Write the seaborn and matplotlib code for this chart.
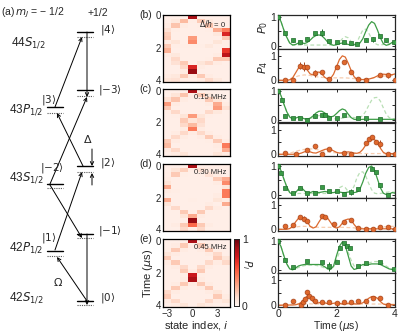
import matplotlib
matplotlib.use("Agg")
import matplotlib.pyplot as plt
import matplotlib.transforms as mtransforms
import seaborn as sns
import pandas as pd

# ---- heatmap data: population P_i, rows = 0.25 us time bins (0..4 us) ----
states = [-3, -2, -1, 0, 1, 2, 3, 4]
time_labels = ["0", "", "2", "", "4"]
detuning_labels = [r"$\Delta/h$ = 0", "0.15 MHz", "0.30 MHz", "0.45 MHz"]
panel_letters = ["(b)", "(c)", "(d)", "(e)"]

pop_b = [
    [.04, .04, .04, .85, .04, .04, .04, .04],
    [.04, .08, .25, .05, .20, .08, .04, .04],
    [.06, .22, .06, .04, .05, .22, .06, .04],
    [.12, .05, .04, .04, .04, .05, .30, .45],
    [.18, .04, .04, .04, .04, .04, .08, .70],
    [.20, .04, .04, .35, .04, .04, .04, .20],
    [.06, .10, .04, .40, .04, .04, .10, .05],
    [.20, .05, .05, .05, .05, .08, .04, .05],
    [.28, .04, .04, .04, .04, .04, .04, .65],
    [.06, .08, .04, .04, .04, .04, .06, .80],
    [.04, .15, .04, .04, .04, .05, .20, .20],
    [.04, .12, .20, .04, .10, .15, .06, .04],
    [.04, .04, .15, .70, .06, .04, .04, .04],
    [.04, .04, .06, .90, .04, .04, .04, .04],
    [.06, .08, .20, .06, .20, .06, .04, .04],
    [.10, .12, .05, .04, .06, .15, .08, .04],
]
pop_c = [
    [.04, .04, .04, .85, .04, .04, .04, .04],
    [.04, .10, .22, .05, .20, .08, .04, .04],
    [.12, .22, .06, .04, .05, .20, .10, .04],
    [.35, .06, .04, .04, .04, .06, .30, .06],
    [.20, .04, .04, .04, .04, .04, .35, .12],
    [.05, .15, .04, .04, .04, .15, .08, .04],
    [.04, .05, .10, .35, .10, .05, .04, .04],
    [.04, .04, .20, .10, .15, .04, .04, .04],
    [.04, .04, .15, .25, .12, .04, .04, .04],
    [.04, .04, .06, .45, .06, .04, .04, .04],
    [.04, .06, .15, .06, .15, .06, .04, .04],
    [.04, .15, .06, .04, .06, .20, .06, .04],
    [.20, .06, .04, .04, .04, .05, .20, .06],
    [.25, .04, .04, .04, .04, .04, .06, .45],
    [.06, .15, .04, .04, .04, .04, .05, .30],
    [.04, .06, .10, .04, .04, .04, .10, .06],
]
pop_d = [
    [.04, .04, .04, .85, .04, .04, .04, .04],
    [.04, .10, .18, .05, .12, .06, .04, .04],
    [.05, .20, .05, .04, .05, .12, .06, .04],
    [.06, .04, .04, .04, .04, .04, .20, .30],
    [.10, .04, .04, .04, .04, .04, .06, .40],
    [.30, .04, .04, .04, .04, .04, .04, .10],
    [.06, .05, .04, .04, .04, .04, .04, .45],
    [.04, .04, .04, .04, .04, .04, .06, .45],
    [.30, .04, .04, .05, .04, .04, .10, .06],
    [.10, .04, .04, .04, .04, .06, .04, .30],
    [.04, .15, .04, .04, .04, .15, .06, .04],
    [.04, .04, .20, .04, .20, .04, .04, .04],
    [.04, .04, .10, .30, .06, .04, .04, .04],
    [.04, .04, .04, .90, .04, .04, .04, .04],
    [.04, .06, .20, .50, .20, .06, .04, .04],
    [.04, .04, .15, .05, .15, .04, .04, .04],
]
pop_e = [
    [.04, .04, .04, .85, .04, .04, .04, .04],
    [.04, .06, .20, .05, .20, .06, .04, .04],
    [.05, .20, .06, .04, .06, .20, .05, .04],
    [.10, .06, .04, .04, .04, .06, .15, .04],
    [.20, .04, .04, .04, .04, .04, .20, .10],
    [.06, .20, .04, .04, .04, .15, .06, .15],
    [.04, .06, .15, .04, .15, .06, .04, .04],
    [.04, .04, .20, .06, .20, .04, .04, .04],
    [.04, .04, .05, .75, .05, .04, .04, .04],
    [.04, .04, .06, .85, .06, .04, .04, .04],
    [.04, .06, .20, .06, .20, .06, .04, .04],
    [.04, .20, .06, .04, .06, .20, .04, .04],
    [.15, .06, .04, .04, .04, .06, .10, .04],
    [.20, .04, .04, .04, .04, .04, .20, .06],
    [.06, .15, .04, .04, .04, .15, .06, .10],
    [.04, .06, .10, .04, .10, .06, .04, .04],
]

# ---- measured P0 / P4 with error bars ----
g1_p0_t = [0, 0.25, 0.5, 0.75, 1.0, 1.25, 1.5, 1.75, 2.0, 2.25, 2.5, 2.7, 3.0, 3.25, 3.5, 3.7, 3.95]
g1_p0_v = [1.0, 0.44, 0.19, 0.14, 0.25, 0.43, 0.46, 0.17, 0.14, 0.12, 0.11, 0.08, 0.21, 0.23, 0.35, 0.19, 0.12]
g1_p0_e = [0.02, 0.05, 0.05, 0.08, 0.05, 0.05, 0.12, 0.04, 0.04, 0.04, 0.04, 0.04, 0.05, 0.08, 0.04, 0.05, 0.06]
g1_p4_t = [0.25, 0.5, 0.75, 0.9, 1.0, 1.25, 1.5, 1.75, 2.0, 2.25, 2.5, 2.75, 3.0, 3.5, 3.75, 4.0]
g1_p4_v = [0.0, 0.03, 0.60, 0.56, 0.56, 0.28, 0.32, 0.07, 0.56, 0.74, 0.32, 0.04, 0.03, 0.21, 0.21, 0.03]
g1_p4_e = [0.02, 0.03, 0.15, 0.2, 0.08, 0.15, 0.04, 0.03, 0.04, 0.04, 0.04, 0.03, 0.03, 0.06, 0.1, 0.03]

g2_p0_t = [0, 0.12, 0.25, 0.5, 0.75, 1.0, 1.25, 1.5, 1.6, 1.75, 2.0, 2.25, 2.75, 3.0, 3.5]
g2_p0_v = [1.0, 0.7, 0.15, 0.08, 0.06, 0.0, 0.12, 0.16, 0.18, 0.05, 0.06, 0.18, 0.06, 0.06, 0.02]
g2_p0_e = [0.02, 0.04, 0.04, 0.03, 0.03, 0.03, 0.04, 0.05, 0.05, 0.03, 0.03, 0.04, 0.03, 0.03, 0.03]
g2_p4_t = [0.25, 0.6, 1.0, 1.25, 1.5, 1.75, 2.25, 2.5, 3.0, 3.1, 3.2, 3.35, 3.5, 3.75, 4.0]
g2_p4_v = [0.07, 0.02, 0.18, 0.35, 0.03, 0.22, 0.05, 0.03, 0.47, 0.64, 0.71, 0.51, 0.44, 0.03, 0.01]
g2_p4_e = [0.03, 0.03, 0.04, 0.04, 0.03, 0.04, 0.03, 0.03, 0.05, 0.06, 0.06, 0.06, 0.15, 0.03, 0.03]

g3_p0_t = [0, 0.1, 0.25, 0.5, 0.75, 1.0, 1.25, 1.5, 1.75, 2.0, 2.25, 2.5, 2.75, 3.2, 3.35, 3.5, 3.75]
g3_p0_v = [0.99, 0.76, 0.25, 0.07, 0.25, 0.07, 0.08, 0.28, 0.13, 0.13, 0.02, 0.1, 0.19, 0.91, 0.8, 0.36, 0.0]
g3_p0_e = [0.02, 0.05, 0.04, 0.04, 0.05, 0.03, 0.03, 0.04, 0.03, 0.03, 0.03, 0.1, 0.04, 0.04, 0.04, 0.04, 0.03]
g3_p4_t = [0.25, 0.5, 0.75, 0.88, 1.0, 1.5, 1.62, 1.9, 2.25, 2.5, 2.75, 3.0, 3.25, 3.5, 3.75, 4.0]
g3_p4_v = [0.15, 0.17, 0.5, 0.44, 0.32, 0.53, 0.5, 0.22, 0.28, 0.36, 0.04, 0.03, 0.03, 0.08, 0.08, 0.02]
g3_p4_e = [0.03, 0.03, 0.05, 0.12, 0.05, 0.04, 0.04, 0.04, 0.04, 0.04, 0.03, 0.03, 0.03, 0.03, 0.03, 0.03]

g4_p0_t = [0, 0.25, 0.5, 1.0, 1.5, 1.75, 2.0, 2.12, 2.25, 2.35, 2.45, 2.75, 3.0, 3.5, 3.95]
g4_p0_v = [1.0, 0.35, 0.11, 0.31, 0.28, 0.14, 0.28, 0.77, 0.92, 0.83, 0.75, 0.14, 0.25, 0.29, 0.03]
g4_p0_e = [0.02, 0.04, 0.03, 0.04, 0.04, 0.15, 0.04, 0.05, 0.05, 0.05, 0.05, 0.04, 0.04, 0.04, 0.03]
g4_p4_t = [0.25, 0.5, 0.78, 0.87, 0.92, 1.0, 1.07, 1.17, 1.25, 1.5, 1.75, 2.0, 2.25, 2.5, 2.75, 3.0, 3.25, 3.5, 3.75]
g4_p4_v = [0.03, 0.17, 0.0, 0.14, 0.25, 0.53, 0.39, 0.28, 0.17, 0.14, 0.14, 0.11, 0.14, 0.14, 0.17, 0.17, 0.31, 0.31, 0.0]
g4_p4_e = [0.03, 0.03, 0.03, 0.04, 0.04, 0.1, 0.05, 0.04, 0.03, 0.03, 0.03, 0.03, 0.03, 0.03, 0.03, 0.04, 0.05, 0.05, 0.03]

# ---- simulated curves, sampled every 0.1 us ----
curve_t = [0.0, 0.1, 0.2, 0.3, 0.4, 0.5, 0.6, 0.7, 0.8, 0.9,
           1.0, 1.1, 1.2, 1.3, 1.4, 1.5, 1.6, 1.7, 1.8, 1.9,
           2.0, 2.1, 2.2, 2.3, 2.4, 2.5, 2.6, 2.7, 2.8, 2.9,
           3.0, 3.1, 3.2, 3.3, 3.4, 3.5, 3.6, 3.7, 3.8, 3.9,
           4.0]

g1_p0_fit = [1.00, 0.85, 0.55, 0.30, 0.10, 0.03, 0.05, 0.10, 0.12, 0.08,
             0.12, 0.20, 0.30, 0.36, 0.38, 0.35, 0.25, 0.13, 0.05, 0.02,
             0.04, 0.08, 0.10, 0.08, 0.05, 0.03, 0.04, 0.05, 0.10, 0.25,
             0.50, 0.72, 0.84, 0.78, 0.55, 0.28, 0.08, 0.02, 0.05, 0.12,
             0.10]
g1_p0_ideal = [1.00, 0.85, 0.55, 0.28, 0.10, 0.03, 0.02, 0.03, 0.03, 0.03,
               0.03, 0.03, 0.03, 0.03, 0.03, 0.03, 0.03, 0.03, 0.04, 0.05,
               0.06, 0.12, 0.25, 0.32, 0.28, 0.15, 0.06, 0.12, 0.35, 0.55,
               0.58, 0.45, 0.25, 0.10, 0.04, 0.03, 0.05, 0.07, 0.08, 0.08,
               0.07]
g1_p4_fit = [0.00, 0.00, 0.00, 0.00, 0.02, 0.10, 0.30, 0.50, 0.62, 0.58,
             0.42, 0.26, 0.22, 0.30, 0.34, 0.26, 0.12, 0.05, 0.08, 0.25,
             0.55, 0.85, 1.00, 0.95, 0.70, 0.40, 0.15, 0.04, 0.02, 0.03,
             0.04, 0.05, 0.08, 0.12, 0.18, 0.22, 0.25, 0.24, 0.22, 0.23,
             0.26]
g1_p4_ideal = [0.00, 0.00, 0.01, 0.03, 0.06, 0.10, 0.14, 0.18, 0.20, 0.22,
               0.21, 0.20, 0.17, 0.15, 0.13, 0.12, 0.11, 0.10, 0.10, 0.10,
               0.10, 0.10, 0.10, 0.10, 0.09, 0.08, 0.07, 0.06, 0.05, 0.05,
               0.05, 0.06, 0.08, 0.10, 0.12, 0.15, 0.17, 0.18, 0.19, 0.20,
               0.20]

g2_p0_fit = [1.00, 0.85, 0.55, 0.28, 0.10, 0.03, 0.06, 0.10, 0.08, 0.04,
             0.03, 0.06, 0.14, 0.24, 0.30, 0.30, 0.24, 0.15, 0.10, 0.13,
             0.22, 0.32, 0.38, 0.34, 0.20, 0.08, 0.02, 0.01, 0.01, 0.02,
             0.02, 0.02, 0.02, 0.02, 0.02, 0.02, 0.02, 0.02, 0.02, 0.02,
             0.02]
g2_p0_ideal = [1.00, 0.85, 0.55, 0.28, 0.10, 0.03, 0.02, 0.03, 0.04, 0.04,
               0.04, 0.05, 0.08, 0.12, 0.15, 0.15, 0.12, 0.08, 0.05, 0.04,
               0.04, 0.05, 0.06, 0.08, 0.10, 0.10, 0.08, 0.06, 0.08, 0.15,
               0.30, 0.50, 0.68, 0.77, 0.78, 0.65, 0.42, 0.20, 0.08, 0.04,
               0.03]
g2_p4_fit = [0.00, 0.00, 0.00, 0.00, 0.00, 0.00, 0.01, 0.02, 0.05, 0.10,
             0.12, 0.10, 0.06, 0.05, 0.10, 0.15, 0.20, 0.22, 0.20, 0.14,
             0.08, 0.05, 0.06, 0.08, 0.10, 0.08, 0.05, 0.04, 0.08, 0.20,
             0.38, 0.52, 0.60, 0.60, 0.48, 0.25, 0.08, 0.02, 0.02, 0.03,
             0.03]
g2_p4_ideal = [0.00, 0.00, 0.01, 0.03, 0.05, 0.08, 0.12, 0.15, 0.18, 0.20,
               0.22, 0.22, 0.22, 0.20, 0.18, 0.15, 0.12, 0.10, 0.08, 0.07,
               0.06, 0.05, 0.05, 0.04, 0.04, 0.04, 0.04, 0.03, 0.03, 0.03,
               0.03, 0.03, 0.03, 0.03, 0.03, 0.03, 0.03, 0.02, 0.02, 0.02,
               0.02]

g3_p0_fit = [1.00, 0.85, 0.55, 0.28, 0.08, 0.02, 0.08, 0.20, 0.25, 0.15,
             0.05, 0.08, 0.12, 0.10, 0.08, 0.10, 0.12, 0.10, 0.08, 0.08,
             0.10, 0.10, 0.08, 0.08, 0.10, 0.10, 0.08, 0.10, 0.20, 0.45,
             0.75, 0.95, 1.00, 0.85, 0.55, 0.25, 0.06, 0.01, 0.03, 0.08,
             0.06]
g3_p0_ideal = [1.00, 0.85, 0.55, 0.28, 0.08, 0.02, 0.03, 0.05, 0.05, 0.05,
               0.05, 0.05, 0.05, 0.05, 0.05, 0.05, 0.05, 0.05, 0.06, 0.08,
               0.15, 0.25, 0.30, 0.25, 0.12, 0.10, 0.30, 0.60, 0.78, 0.80,
               0.65, 0.40, 0.18, 0.06, 0.04, 0.05, 0.07, 0.09, 0.10, 0.10,
               0.09]
g3_p4_fit = [0.00, 0.00, 0.00, 0.00, 0.03, 0.12, 0.30, 0.45, 0.50, 0.45,
             0.30, 0.12, 0.05, 0.10, 0.30, 0.48, 0.52, 0.45, 0.28, 0.10,
             0.05, 0.10, 0.25, 0.38, 0.42, 0.38, 0.20, 0.06, 0.02, 0.02,
             0.02, 0.02, 0.02, 0.02, 0.02, 0.02, 0.02, 0.02, 0.02, 0.02,
             0.02]
g3_p4_ideal = [0.00, 0.00, 0.01, 0.03, 0.05, 0.07, 0.09, 0.11, 0.12, 0.12,
               0.12, 0.11, 0.10, 0.09, 0.08, 0.08, 0.08, 0.08, 0.08, 0.08,
               0.08, 0.08, 0.08, 0.08, 0.07, 0.07, 0.06, 0.05, 0.05, 0.05,
               0.05, 0.05, 0.06, 0.07, 0.08, 0.09, 0.10, 0.11, 0.12, 0.12,
               0.12]

g4_p0_fit = [1.00, 0.82, 0.50, 0.22, 0.05, 0.02, 0.08, 0.15, 0.18, 0.20,
             0.20, 0.20, 0.20, 0.20, 0.20, 0.18, 0.12, 0.05, 0.03, 0.15,
             0.50, 0.82, 0.97, 0.85, 0.50, 0.15, 0.03, 0.06, 0.15, 0.20,
             0.20, 0.20, 0.22, 0.22, 0.22, 0.20, 0.15, 0.10, 0.05, 0.03,
             0.02]
g4_p0_ideal = [1.00, 0.82, 0.50, 0.22, 0.05, 0.02, 0.05, 0.10, 0.14, 0.16,
               0.18, 0.18, 0.18, 0.17, 0.15, 0.12, 0.08, 0.05, 0.05, 0.12,
               0.35, 0.62, 0.78, 0.80, 0.62, 0.35, 0.15, 0.08, 0.10, 0.15,
               0.20, 0.25, 0.28, 0.30, 0.30, 0.28, 0.22, 0.15, 0.08, 0.04,
               0.03]
g4_p4_fit = [0.00, 0.00, 0.01, 0.01, 0.01, 0.01, 0.02, 0.05, 0.12, 0.25,
             0.38, 0.30, 0.15, 0.08, 0.10, 0.12, 0.10, 0.06, 0.05, 0.08,
             0.10, 0.08, 0.05, 0.06, 0.08, 0.08, 0.06, 0.05, 0.06, 0.10,
             0.18, 0.28, 0.35, 0.35, 0.28, 0.15, 0.05, 0.02, 0.02, 0.02,
             0.02]
g4_p4_ideal = [0.00, 0.01, 0.02, 0.03, 0.04, 0.05, 0.05, 0.06, 0.06, 0.06,
               0.06, 0.06, 0.05, 0.05, 0.05, 0.05, 0.05, 0.05, 0.05, 0.05,
               0.05, 0.05, 0.05, 0.04, 0.04, 0.04, 0.04, 0.04, 0.04, 0.05,
               0.05, 0.05, 0.05, 0.05, 0.05, 0.05, 0.05, 0.05, 0.04, 0.04,
               0.04]

heatmaps = [pop_b, pop_c, pop_d, pop_e]
groups = [
    (g1_p0_t, g1_p0_v, g1_p0_e, g1_p0_fit, g1_p0_ideal, g1_p4_t, g1_p4_v, g1_p4_e, g1_p4_fit, g1_p4_ideal),
    (g2_p0_t, g2_p0_v, g2_p0_e, g2_p0_fit, g2_p0_ideal, g2_p4_t, g2_p4_v, g2_p4_e, g2_p4_fit, g2_p4_ideal),
    (g3_p0_t, g3_p0_v, g3_p0_e, g3_p0_fit, g3_p0_ideal, g3_p4_t, g3_p4_v, g3_p4_e, g3_p4_fit, g3_p4_ideal),
    (g4_p0_t, g4_p0_v, g4_p0_e, g4_p0_fit, g4_p0_ideal, g4_p4_t, g4_p4_v, g4_p4_e, g4_p4_fit, g4_p4_ideal),
]

GREEN = dict(line="#3d9c46", light="#b9dfb5", face="#3a9b46", edge="#1d6b2a", marker="s")
ORANGE = dict(line="#dc6a2f", light="#f6cdb0", face="#e0692d", edge="#a8441a", marker="o")

sns.set_theme(style="ticks")
plt.rcParams["font.family"] = ["Liberation Sans", "DejaVu Sans"]
plt.rcParams.update({
    "font.size": 7, "xtick.labelsize": 7, "ytick.labelsize": 7,
    "axes.labelsize": 8, "axes.linewidth": 0.9,
    "xtick.direction": "in", "ytick.direction": "in",
    "xtick.major.size": 2.5, "ytick.major.size": 2.5,
    "xtick.major.width": 0.7, "ytick.major.width": 0.7,
    "xtick.major.pad": 1.5, "ytick.major.pad": 1.5,
})

W, H = 415, 332
fig = plt.figure(figsize=(W / 100, H / 100), dpi=100)


def px_axes(x0, y0, x1, y1):
    return fig.add_axes([x0 / W, 1 - y1 / H, (x1 - x0) / W, (y1 - y0) / H])


# ---------------- (a) level diagram ----------------
ax_a = fig.add_axes([0, 0, 1, 1])
ax_a.set_xlim(0, W)
ax_a.set_ylim(H, 0)
ax_a.axis("off")

# name: (x_left, x_right, y_solid, y_dotted)
levels = {
    "4": (77, 93, 32, 37), "-3": (77, 93, 90, 96), "2": (77, 93, 166, 172),
    "-1": (77, 93, 234, 238), "0": (77, 93, 301, 305),
    "3": (47, 63, 107, 113), "-2": (47, 63, 184, 188), "1": (47, 63, 251, 256),
}
for name, (xl, xr, ys, yd) in levels.items():
    ax_a.plot([xl, xr], [ys, ys], color="black", lw=1.0)
    ax_a.plot([xl, xr], [yd, yd], color="0.35", lw=0.8, ls=(0, (1, 1)))

arrows = [((87, 301), (57, 257)), ((55, 250), (82, 172)), ((50, 185), (82, 238)),
          ((87, 234), (87, 305)), ((83, 166), (57, 113)), ((50, 184), (87, 97)),
          ((55, 107), (82, 37)), ((87, 32), (87, 97)),
          ((92, 149), (92, 166)), ((92, 185), (92, 173))]
for (x0, y0), (x1, y1) in arrows:
    ax_a.annotate("", xy=(x1, y1), xytext=(x0, y0),
                  arrowprops=dict(arrowstyle="->", lw=0.7, color="black",
                                  shrinkA=0, shrinkB=0, mutation_scale=6))

ax_a.text(1, 13, r"(a)$\,m_J$ = − 1/2", fontsize=7.5, va="center")
ax_a.text(88, 13, "+1/2", fontsize=7.5, va="center")
state_names = [(r"44$S_{1/2}$", 11, 43), (r"43$P_{1/2}$", 9, 110), (r"43$S_{1/2}$", 9, 178),
               (r"42$P_{1/2}$", 9, 248), (r"42$S_{1/2}$", 9, 298)]
for txt, x, y in state_names:
    ax_a.text(x, y, txt, fontsize=8.5, va="center")
kets = [("4", 100, 30), ("-3", 98, 90), ("2", 100, 163), ("-1", 98, 231), ("0", 100, 298),
        ("3", 41, 100), ("-2", 40, 168), ("1", 41, 238)]
for k, x, y in kets:
    ax_a.text(x, y, r"$|" + k.replace("-", "{-}") + r"\rangle$", fontsize=7.5, va="center")
ax_a.text(58, 282, r"$\Omega$", fontsize=8, ha="center", va="center")
ax_a.text(88, 139, r"$\Delta$", fontsize=8, ha="center", va="center")

# ---------------- (b)-(e) heatmaps ----------------
hm_rows = [(15, 82), (89, 156), (164, 231), (239, 307)]
cax = px_axes(234, 239, 239, 306)
nudge_up = mtransforms.ScaledTranslation(0, 1.5 / 72, fig.dpi_scale_trans)
nudge_down = mtransforms.ScaledTranslation(0, -1.5 / 72, fig.dpi_scale_trans)
for k, (pop, (y0, y1)) in enumerate(zip(heatmaps, hm_rows)):
    ax = px_axes(163, y0, 230, y1)
    df = pd.DataFrame(pop, columns=states)
    last = k == 3
    sns.heatmap(df, ax=ax, cmap="Reds", vmin=0, vmax=1, cbar=last,
                cbar_ax=cax if last else None, xticklabels=False, yticklabels=False)
    for sp in ax.spines.values():
        sp.set_visible(True)
        sp.set_color("black")
        sp.set_linewidth(0.9)
    ax.set_xticks([i + 0.5 for i in range(len(states))])
    ax.set_xticklabels([(str(s).replace("-", "−") if s in (-3, 0, 3) else "") if last else ""
                        for s in states])
    ax.set_yticks([0, 4, 8, 12, 16])
    ax.set_yticklabels(time_labels, rotation=0)
    ax.tick_params(top=True, right=True, bottom=True, left=True, direction="in",
                   length=2.5, width=0.7, labelsize=7, pad=1.5)
    ylabs = ax.get_yticklabels()
    ylabs[-1].set_transform(ylabs[-1].get_transform() + nudge_up)
    if k > 0:
        ylabs[0].set_transform(ylabs[0].get_transform() + nudge_down)
    ax.text(0.95, 0.87, detuning_labels[k], transform=ax.transAxes, fontsize=5.5,
            ha="right", va="center")
    ax.text(-0.36, 1.0, panel_letters[k], transform=ax.transAxes, fontsize=7.5, va="center")
    if last:
        ax.set_xlabel(r"state index, $i$", labelpad=0)
        ax.set_ylabel(r"Time ($\mu$s)", labelpad=0.5)

cax.set_yticks([0, 1])
cax.set_yticklabels(["0", "1"])
cax.tick_params(length=0, labelsize=7.5, pad=2, right=True, left=False)
for sp in cax.spines.values():
    sp.set_visible(True)
    sp.set_linewidth(0.6)
cax.text(2.6, 0.62, r"$P_i$", transform=cax.transAxes, fontsize=7.5, rotation=270,
         ha="center", va="center")


# ---------------- right: P0 / P4 time traces ----------------
def trace(ax, t, v, err, fit, ideal, c):
    sns.lineplot(x=curve_t, y=ideal, ax=ax, color=c["light"], lw=0.9,
                 linestyle=(0, (3, 2)), errorbar=None)
    sns.lineplot(x=curve_t, y=fit, ax=ax, color=c["line"], lw=0.9, errorbar=None)
    ax.errorbar(t, v, yerr=err, fmt="none", ecolor=c["edge"], elinewidth=0.7,
                capsize=0, zorder=3)
    sns.scatterplot(x=t, y=v, ax=ax, marker=c["marker"], s=12, color=c["face"],
                    edgecolor=c["edge"], linewidth=0.5, zorder=4)


for k, (y0, y1) in enumerate(hm_rows):
    ym = (y0 + y1) / 2
    g = groups[k]
    ax0 = px_axes(278, y0, 395, ym)
    ax4 = px_axes(278, ym, 395, y1)
    trace(ax0, g[0], g[1], g[2], g[3], g[4], GREEN)
    trace(ax4, g[5], g[6], g[7], g[8], g[9], ORANGE)
    ax0.set_ylim(-0.09, 1.07)
    ax4.set_ylim(-0.07, 1.3)
    for ax in (ax0, ax4):
        ax.set_xlim(0, 4)
        ax.set_xticks([0, 1, 2, 3, 4])
        ax.set_yticks([0, 0.5, 1])
        ax.set_yticklabels(["0", "", "1"])
        ax.tick_params(top=True, right=True, direction="in", length=2.5, width=0.7,
                       labelsize=7.5, pad=1.5)
        ax.set_xticklabels([])
        for sp in ax.spines.values():
            sp.set_linewidth(0.9)
    if k == 0:
        ax0.set_ylabel(r"$P_0$", labelpad=0)
        ax0.yaxis.set_label_coords(-0.07, 0.62)
        ax4.set_ylabel(r"$P_4$", labelpad=0)
        ax4.yaxis.set_label_coords(-0.07, 0.45)
    if k == 3:
        ax4.set_xticklabels(["0", "", "2", "", "4"])
        ax4.set_xlabel(r"Time ($\mu$s)", labelpad=0, fontsize=7.5)

fig.savefig("out.png", dpi=100)
